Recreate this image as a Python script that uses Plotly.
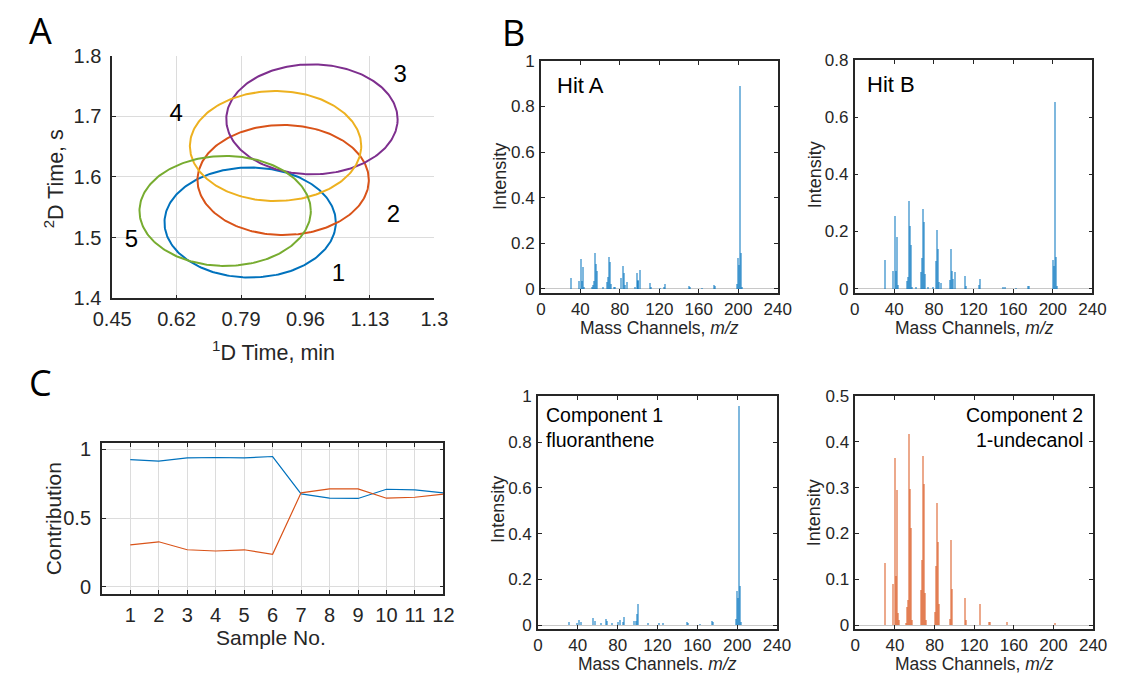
import numpy as np
import plotly.graph_objects as go

W, H = 1121, 676
# Vertical placement: the page adds an 8px top band and renders the
# figure height at 660/676 of its nominal size; pixel targets are converted.
TOP_OFF = 8.0
Y_SCALE = 660.0 / 676.0

# ---------------- Panel A: 2D retention-time ellipses ----------------
ell_ids = ["1", "2", "3", "4", "5"]
ell_cx = [0.814, 0.901, 0.977, 0.881, 0.748]
ell_cy = [1.525, 1.595, 1.695, 1.651, 1.544]
ell_rx = [0.226, 0.226, 0.226, 0.226, 0.226]
ell_ry = [0.0906, 0.0906, 0.0906, 0.0906, 0.0906]
ell_colors = ["#0072BD", "#D95319", "#7E2F8E", "#EDB120", "#77AC30"]
lab_x = [1.047, 1.192, 1.210, 0.619, 0.501]
lab_y = [1.438, 1.535, 1.766, 1.702, 1.495]
a_xticks = [0.45, 0.62, 0.79, 0.96, 1.13, 1.3]
a_xticklabels = ["0.45", "0.62", "0.79", "0.96", "1.13", "1.3"]
a_yticks = [1.4, 1.5, 1.6, 1.7, 1.8]
a_yticklabels = ["1.4", "1.5", "1.6", "1.7", "1.8"]

# ---------------- Panel C: component contributions ----------------
samples = list(range(1, 13))
contrib_1 = [0.925, 0.913, 0.937, 0.940, 0.937, 0.947, 0.675, 0.644, 0.642, 0.709, 0.704, 0.683]
contrib_2 = [0.305, 0.327, 0.269, 0.260, 0.269, 0.236, 0.683, 0.712, 0.712, 0.644, 0.651, 0.673]

# ---------------- Panel B: mass spectra ----------------
hitA_mz = [31, 39, 41, 42, 43, 44, 52, 53, 54, 55, 56, 57, 63, 67, 68, 69, 70, 71, 74, 75,
           81, 83, 84, 85, 87, 95, 97, 98, 99, 101, 111, 112, 121, 125, 126, 150, 151, 163,
           175, 176, 199, 200, 201, 202, 203, 204]
hitA_int = [0.050, 0.033, 0.130, 0.033, 0.098, 0.005, 0.005, 0.019, 0.036, 0.158, 0.111, 0.080,
            0.005, 0.029, 0.053, 0.140, 0.117, 0.020, 0.007, 0.007, 0.048, 0.100, 0.068, 0.015,
            0.029, 0.005, 0.070, 0.035, 0.040, 0.081, 0.024, 0.007, 0.004, 0.008, 0.020, 0.012,
            0.008, 0.003, 0.015, 0.013, 0.020, 0.137, 0.106, 0.891, 0.157, 0.010]

hitB_mz = [31, 39, 41, 42, 43, 44, 53, 54, 55, 56, 57, 58, 62, 67, 68, 69, 70, 71, 74, 79,
           82, 83, 84, 85, 87, 96, 97, 98, 99, 101, 111, 112, 125, 126, 150, 152, 163, 175,
           176, 200, 201, 202, 203, 204]
hitB_int = [0.102, 0.061, 0.255, 0.061, 0.183, 0.015, 0.029, 0.040, 0.308, 0.220, 0.153, 0.005,
            0.005, 0.058, 0.108, 0.278, 0.235, 0.052, 0.007, 0.008, 0.098, 0.205, 0.139, 0.025,
            0.020, 0.030, 0.139, 0.064, 0.036, 0.060, 0.046, 0.010, 0.015, 0.035, 0.008, 0.006,
            0.003, 0.010, 0.009, 0.100, 0.080, 0.653, 0.112, 0.010]

comp1_mz = [31, 39, 41, 43, 55, 57, 63, 69, 70, 75, 81, 83, 86, 87, 97, 99, 100, 101, 111,
            122, 126, 150, 151, 163, 175, 176, 199, 200, 201, 202, 203, 204]
comp1_int = [0.010, 0.008, 0.020, 0.012, 0.028, 0.015, 0.005, 0.026, 0.015, 0.008, 0.013, 0.019,
             0.012, 0.032, 0.015, 0.015, 0.048, 0.088, 0.008, 0.003, 0.006, 0.012, 0.008, 0.002,
             0.014, 0.012, 0.026, 0.147, 0.116, 0.958, 0.168, 0.012]

comp2_mz = [31, 39, 41, 42, 43, 44, 45, 52, 53, 54, 55, 56, 57, 58, 67, 68, 69, 70, 71, 72,
            81, 82, 83, 84, 85, 96, 97, 98, 111, 112, 126, 135, 136, 154, 202]
comp2_int = [0.135, 0.090, 0.364, 0.107, 0.294, 0.025, 0.010, 0.005, 0.040, 0.055, 0.418, 0.297,
             0.212, 0.010, 0.077, 0.141, 0.370, 0.307, 0.069, 0.010, 0.028, 0.129, 0.267, 0.182,
             0.046, 0.012, 0.185, 0.078, 0.059, 0.010, 0.045, 0.006, 0.006, 0.006, 0.004]

mz_ticks = [0, 40, 80, 120, 160, 200, 240]

BLUE = "#0072BD"
ORANGE = "#D95319"
AXC = "#262626"
GRID = "#dcdcdc"
FONT = "Liberation Sans, Arial, sans-serif"


def fy(y):
    """Page pixel row -> paper fraction (from bottom)."""
    return 1 - ((y - TOP_OFF) / Y_SCALE) / H


def px_x(a, b):
    return [a / W, b / W]


def px_y(top, bottom):
    return [fy(bottom), fy(top)]


fig = go.Figure()

# Panel A ellipses
t = np.linspace(0, 2 * np.pi, 240)
for cx, cy, rx, ry, col in zip(ell_cx, ell_cy, ell_rx, ell_ry, ell_colors):
    fig.add_trace(go.Scatter(x=cx + rx * np.cos(t), y=cy + ry * np.sin(t), mode="lines",
                             line=dict(color=col, width=2), xaxis="x", yaxis="y",
                             showlegend=False, hoverinfo="skip"))
fig.add_trace(go.Scatter(x=lab_x, y=lab_y, mode="text", text=ell_ids,
                         textfont=dict(family=FONT, size=24, color="black"),
                         xaxis="x", yaxis="y", showlegend=False, hoverinfo="skip"))

# Panel C lines
fig.add_trace(go.Scatter(x=samples, y=contrib_1, mode="lines", line=dict(color=BLUE, width=1.2),
                         xaxis="x2", yaxis="y2", showlegend=False))
fig.add_trace(go.Scatter(x=samples, y=contrib_2, mode="lines", line=dict(color=ORANGE, width=1.2),
                         xaxis="x2", yaxis="y2", showlegend=False))

# Spectra bars
spectra = [
    (hitA_mz, hitA_int, BLUE, "x3", "y3"),
    (hitB_mz, hitB_int, BLUE, "x4", "y4"),
    (comp1_mz, comp1_int, BLUE, "x5", "y5"),
    (comp2_mz, comp2_int, ORANGE, "x6", "y6"),
]
for mz, inten, col, xa, ya in spectra:
    fig.add_trace(go.Bar(x=mz, y=inten, width=1.5, marker=dict(color=col, opacity=0.5, line=dict(width=0)),
                         xaxis=xa, yaxis=ya, showlegend=False))

tickfont_big = dict(family=FONT, size=20, color=AXC)
tickfont_sm = dict(family=FONT, size=17, color=AXC)


def axis(domain, rng, tickvals, ticktext, anchor, font, grid=False, mirror=False, standoff=4, zeroline=False):
    return dict(domain=domain, range=rng, tickvals=tickvals, ticktext=ticktext, anchor=anchor,
                showline=True, linecolor=AXC, linewidth=1.5, mirror=("allticks" if mirror else False),
                ticks="inside", ticklen=4, tickcolor=AXC, tickwidth=1, tickfont=font,
                showgrid=grid, gridcolor=GRID, gridwidth=1, zeroline=zeroline,
                zerolinecolor="#c8c8c8", zerolinewidth=1, ticklabelstandoff=standoff, fixedrange=True)


layout = dict(
    width=W, height=H, margin=dict(l=0, r=0, t=0, b=0),
    paper_bgcolor="white", plot_bgcolor="white", barmode="overlay", bargap=0,
    font=dict(family=FONT, color=AXC),
    xaxis=axis(px_x(96, 428), [0.45, 1.3], a_xticks, a_xticklabels, "y", tickfont_big, grid=True, standoff=2),
    yaxis=axis(px_y(53, 298), [1.4, 1.8], a_yticks, a_yticklabels, "x", tickfont_big, grid=True, standoff=5),
    xaxis2=axis(px_x(85.3, 437.3), [0, 12], samples, [str(s) for s in samples], "y2", tickfont_big,
                grid=True, mirror=True, standoff=3),
    yaxis2=axis(px_y(444, 596), [-0.05, 1.045], [0, 0.5, 1], ["0", "0.5", "1"], "x2", tickfont_big,
                grid=True, mirror=True, standoff=5),
    xaxis3=axis(px_x(537.7, 781.8), [0, 240], mz_ticks, [str(v) for v in mz_ticks], "y3", tickfont_sm,
                mirror=True, standoff=0),
    yaxis3=axis(px_y(58.3, 292.3), [-0.0174, 1], [0, 0.2, 0.4, 0.6, 0.8, 1],
                ["0", "0.2", "0.4", "0.6", "0.8", "1"], "x3", tickfont_sm, mirror=True, zeroline=True, standoff=1),
    xaxis4=axis(px_x(861, 1106), [0, 240], mz_ticks, [str(v) for v in mz_ticks], "y4", tickfont_sm,
                mirror=True, standoff=0),
    yaxis4=axis(px_y(57.3, 292.3), [-0.014, 0.8], [0, 0.2, 0.4, 0.6, 0.8],
                ["0", "0.2", "0.4", "0.6", "0.8"], "x4", tickfont_sm, mirror=True, zeroline=True, standoff=1),
    xaxis5=axis(px_x(534.7, 781), [0, 240], mz_ticks, [str(v) for v in mz_ticks], "y5", tickfont_sm,
                mirror=True, standoff=0),
    yaxis5=axis(px_y(397, 631.7), [-0.0174, 1], [0, 0.2, 0.4, 0.6, 0.8, 1],
                ["0", "0.2", "0.4", "0.6", "0.8", "1"], "x5", tickfont_sm, mirror=True, zeroline=True, standoff=1),
    xaxis6=axis(px_x(861.7, 1106.7), [0, 240], mz_ticks, [str(v) for v in mz_ticks], "y6", tickfont_sm,
                mirror=True, standoff=0),
    yaxis6=axis(px_y(396.7, 631.7), [-0.0087, 0.5], [0, 0.1, 0.2, 0.3, 0.4, 0.5],
                ["0", "0.1", "0.2", "0.3", "0.4", "0.5"], "x6", tickfont_sm, mirror=True, zeroline=True, standoff=1),
)
fig.update_layout(**layout)


def note(text, x, y, size, angle=0, xanchor="center", color=AXC, family=FONT):
    fig.add_annotation(text=text, x=x / W, y=fy(y), xref="paper", yref="paper",
                       showarrow=False, textangle=angle, xanchor=xanchor, yanchor="middle",
                       font=dict(family=family, size=size, color=color))


LETTER_FONT = "Open Sans, sans-serif"
note("A", 22, 28, 36, color="black", family=LETTER_FONT)
note("B", 510, 30, 36, color="black", family=LETTER_FONT)
note("C", 22, 383, 36, color="black", family=LETTER_FONT)

# axis titles
note("<sup>1</sup>D Time, min", 262, 351, 21.5)
note("<sup>2</sup>D Time, s", 37, 177, 21.5, angle=-90)
note("Contribution", 35, 520, 21)
fig.layout.annotations[-1].textangle = -90
note("Sample No.", 260, 640, 21)
note("Intensity", 496, 175, 18, angle=-90)
note("Intensity", 820, 173, 18, angle=-90)
note("Intensity", 494, 511, 18, angle=-90)
note("Intensity", 820, 514, 18, angle=-90)
note("Mass Channels, <i>m/z</i>", 660, 328, 17.5)
note("Mass Channels, <i>m/z</i>", 984, 328, 17.5)
note("Mass Channels. <i>m/z</i>", 658, 667, 17.5)
note("Mass Channels, <i>m/z</i>", 984, 667, 17.5)

# in-panel spectrum labels
note("Hit A", 552, 83, 22, xanchor="left", color="black")
note("Hit B", 872, 82, 22, xanchor="left", color="black")
note("Component 1", 541, 416, 19.5, xanchor="left", color="black")
note("fluoranthene", 541, 441, 19.5, xanchor="left", color="black")
note("Component 2", 1098, 416, 19.5, xanchor="right", color="black")
note("1-undecanol", 1098, 441, 19.5, xanchor="right", color="black")

fig.write_html("out.html")
